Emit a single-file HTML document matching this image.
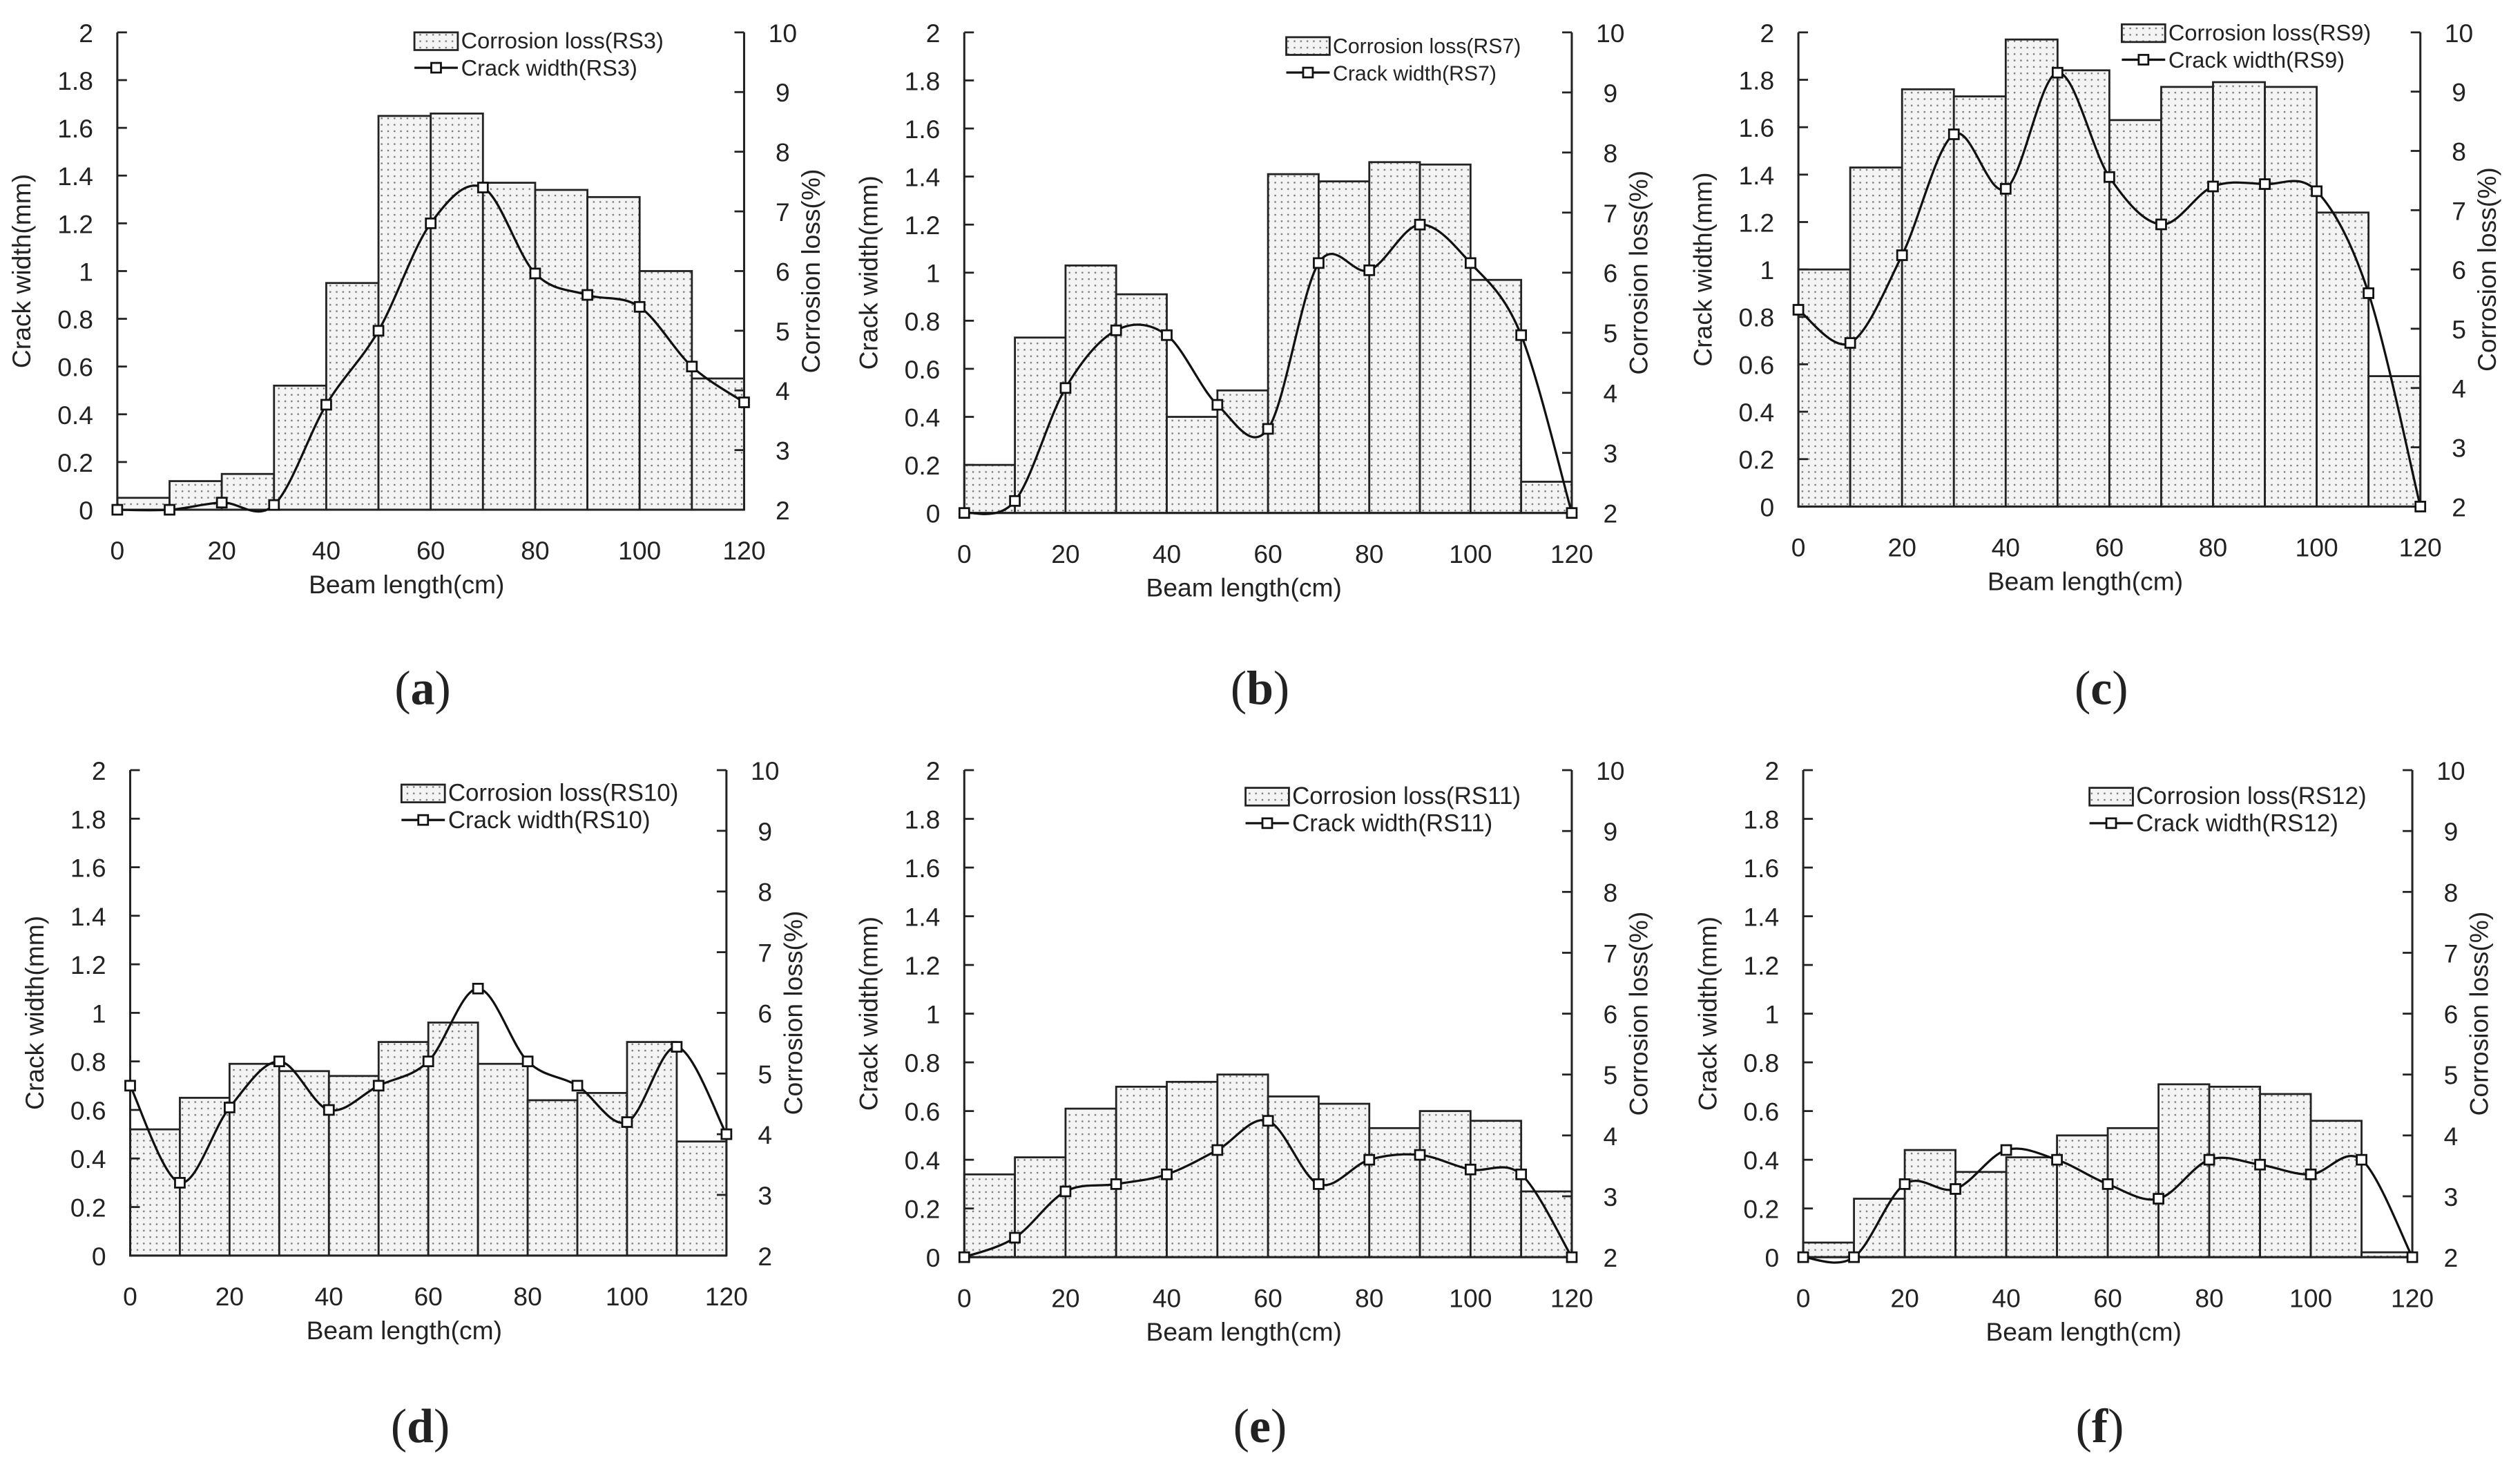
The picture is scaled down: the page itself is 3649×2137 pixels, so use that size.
<!DOCTYPE html>
<html><head><meta charset="utf-8"><style>
html,body{margin:0;padding:0;background:#fff}
svg{display:block}
text{font-family:"Liberation Sans",sans-serif;fill:#222}
</style></head><body>
<svg id="fig" width="3649" height="2137" viewBox="0 0 1568 918" xmlns="http://www.w3.org/2000/svg">
<defs>
<pattern id="dots" width="4" height="4" patternUnits="userSpaceOnUse">
<rect width="4" height="4" fill="#f4f4f4"/><rect x="1" y="1" width="1" height="1" fill="#777"/>
</pattern>
</defs>
</svg>
<script>
const xTicks=[0,20,40,60,80,100,120];
const yLeftTicks=[0,0.2,0.4,0.6,0.8,1,1.2,1.4,1.6,1.8,2];
const yRightTicks=[2,3,4,5,6,7,8,9,10];
const positions=[0,10,20,30,40,50,60,70,80,90,100,110,120];
const labelsRS=["RS3","RS7","RS9","RS10","RS11","RS12"];
const panelLetters=["a","b","c","d","e","f"];
const corrA=[2.2,2.48,2.6,4.08,5.8,8.6,8.64,7.48,7.36,7.24,6.0,4.2];
const crackA=[0,0,0.03,0.02,0.44,0.75,1.2,1.35,0.99,0.9,0.85,0.6,0.45];
const corrB=[2.8,4.92,6.12,5.64,3.6,4.04,7.64,7.52,7.84,7.8,5.88,2.52];
const crackB=[0,0.05,0.52,0.76,0.74,0.45,0.35,1.04,1.01,1.2,1.04,0.74,0];
const corrC=[6,7.72,9.04,8.92,9.88,9.36,8.52,9.08,9.16,9.08,6.96,4.2];
const crackC=[0.83,0.69,1.06,1.57,1.34,1.83,1.39,1.19,1.35,1.36,1.33,0.9,0];
const corrD=[4.08,4.6,5.16,5.04,4.96,5.52,5.84,5.16,4.56,4.68,5.52,3.88];
const crackD=[0.7,0.3,0.61,0.8,0.6,0.7,0.8,1.1,0.8,0.7,0.55,0.86,0.5];
const corrE=[3.36,3.64,4.44,4.8,4.88,5,4.64,4.52,4.12,4.4,4.24,3.08];
const crackE=[0,0.08,0.27,0.3,0.34,0.44,0.56,0.3,0.4,0.42,0.36,0.34,0];
const corrF=[2.24,2.96,3.76,3.4,3.64,4,4.12,4.84,4.8,4.68,4.24,2.08];
const crackF=[0,0,0.3,0.28,0.44,0.4,0.3,0.24,0.4,0.38,0.34,0.4,0];
const corrAll=[corrA,corrB,corrC,corrD,corrE,corrF];
const crackAll=[crackA,crackB,crackC,crackD,crackE,crackF];
// layout (not data)
const layout=[
 {x0:73,x1:463,y0:317,y1:20,lx:0.474,ly:5,ry:428,fs:14},
 {x0:600,x1:978,y0:319,y1:20,lx:0.53,ly:8,ry:428,fs:13},
 {x0:1119,x1:1506,y0:315,y1:20,lx:0.52,ly:0,ry:428,fs:14},
 {x0:81,x1:452,y0:781,y1:479,lx:0.455,ly:14,ry:887,fs:15},
 {x0:600,x1:978,y0:782,y1:479,lx:0.463,ly:16,ry:887,fs:15},
 {x0:1122,x1:1501,y0:782,y1:479,lx:0.47,ly:16,ry:887,fs:15}];
const NS="http://www.w3.org/2000/svg";
const svg=document.getElementById('fig');
function mk(tag,attrs,parent,txt){const e=document.createElementNS(NS,tag);for(const k in attrs)e.setAttribute(k,attrs[k]);if(txt!==undefined)e.textContent=txt;parent.appendChild(e);return e;}
function smooth(pts){let d="M"+pts[0][0]+","+pts[0][1];for(let i=0;i<pts.length-1;i++){const p0=pts[Math.max(i-1,0)],p1=pts[i],p2=pts[i+1],p3=pts[Math.min(i+2,pts.length-1)];const c1=[p1[0]+(p2[0]-p0[0])/6,p1[1]+(p2[1]-p0[1])/6],c2=[p2[0]-(p3[0]-p1[0])/6,p2[1]-(p3[1]-p1[1])/6];d+=" C"+c1[0]+","+c1[1]+" "+c2[0]+","+c2[1]+" "+p2[0]+","+p2[1];}return d;}
layout.forEach((L,i)=>{
 const g=mk('g',{},svg);
 
 
 const sx=v=>L.x0+(v/120)*(L.x1-L.x0);
 const syL=v=>L.y0-(v/2)*(L.y0-L.y1);
 const syR=v=>L.y0-((v-2)/8)*(L.y0-L.y1);
 corrAll[i].forEach((v,j)=>{
  const r=mk('rect',{x:sx(positions[j]),y:syR(v),width:sx(positions[j+1])-sx(positions[j]),height:L.y0-syR(v),fill:'url(#dots)',stroke:'#222','stroke-width':1.2},g);
  
  
 });
 const ax=mk('path',{d:`M${L.x0},${L.y1}V${L.y0}H${L.x1}M${L.x1},${L.y1}V${L.y0}`,stroke:'#222','stroke-width':1.3,fill:'none'},g);
 
 
 yLeftTicks.forEach(v=>{
  mk('line',{x1:L.x0,x2:L.x0+6,y1:syL(v),y2:syL(v),stroke:'#222','stroke-width':1.2},g);
  const t=mk('text',{x:L.x0-15,y:syL(v)+6,'text-anchor':'end','font-size':16},g,String(v));
  
  
 });
 yRightTicks.forEach(v=>{
  mk('line',{x1:L.x1-6,x2:L.x1,y1:syR(v),y2:syR(v),stroke:'#222','stroke-width':1.2},g);
  const t=mk('text',{x:L.x1+24,y:syR(v)+6,'text-anchor':'middle','font-size':16},g,String(v));
  
  
 });
 xTicks.forEach(v=>{
  const t=mk('text',{x:sx(v),y:L.y0+31,'text-anchor':'middle','font-size':16},g,String(v));
  
  
 });
 const xt=mk('text',{x:(L.x0+L.x1)/2-15,y:L.y0+52,'text-anchor':'middle','font-size':16},g,'Beam length(cm)');
 
 
 const cy=(L.y0+L.y1)/2;
 const yt=mk('text',{x:0,y:0,'text-anchor':'middle','font-size':16,transform:`translate(${L.x0-54},${cy}) rotate(-90)`},g,'Crack width(mm)');
 
 
 const rt=mk('text',{x:0,y:0,'text-anchor':'middle','font-size':16,transform:`translate(${L.x1+47},${cy}) rotate(-90)`},g,'Corrosion loss(%)');
 
 
 const pts=crackAll[i].map((v,j)=>[sx(positions[j]),syL(v)]);
 const ln=mk('path',{d:smooth(pts),stroke:'#111','stroke-width':1.4,fill:'none'},g);
 
 
 pts.forEach(p=>{
  const m=mk('rect',{x:p[0]-3,y:p[1]-3,width:6,height:6,fill:'#fff',stroke:'#111','stroke-width':1.2},g);
  
  
 });
 const lx=L.x0+L.lx*(L.x1-L.x0), ly=L.y1+L.ly;
 const lg=mk('g',{},g);
 
 
 mk('rect',{x:lx,y:ly-5,width:27,height:11,fill:'url(#dots)',stroke:'#222','stroke-width':1.2},lg);
 mk('text',{x:lx+29,y:ly+5,'font-size':L.fs},lg,'Corrosion loss('+labelsRS[i]+')');
 mk('line',{x1:lx,x2:lx+27,y1:ly+17,y2:ly+17,stroke:'#111','stroke-width':1.4},lg);
 mk('rect',{x:lx+10.5,y:ly+14,width:6,height:6,fill:'#fff',stroke:'#111','stroke-width':1.2},lg);
 mk('text',{x:lx+29,y:ly+22,'font-size':L.fs},lg,'Crack width('+labelsRS[i]+')');
 const pl=mk('text',{x:(L.x0+L.x1)/2-5,y:L.ry+10,'text-anchor':'middle','font-size':30,style:'font-family:"Liberation Serif",serif'},g);
 
 
 mk('tspan',{},pl,'(');mk('tspan',{'font-weight':'bold'},pl,panelLetters[i]);mk('tspan',{},pl,')');
});
</script>
</body></html>
